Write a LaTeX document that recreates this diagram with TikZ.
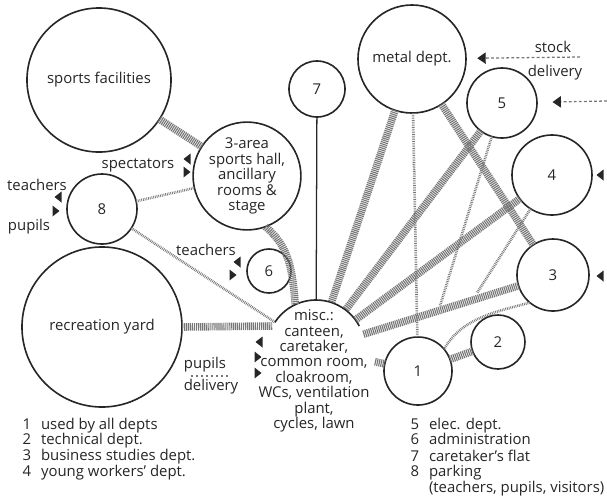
\documentclass[tikz,border=0pt]{standalone}
\usepackage{fontspec}
\setmainfont{Open Sans}
\usetikzlibrary{arrows.meta,shapes.geometric}
\definecolor{ink}{RGB}{38,38,38}
\definecolor{hatch}{RGB}{118,118,118}
\tikzset{
  area/.style={circle,draw=ink,line width=1.15pt,inner sep=0pt,outer sep=0pt,align=center,text=ink},
  lbl/.style={text=ink,inner sep=1pt,align=center},
  strong/.style={draw=hatch,line width=5.4pt,dash pattern=on 0.8pt off 0.6pt},
  weak/.style={draw=hatch,line width=1.9pt,dash pattern=on 0.55pt off 0.7pt},
  supply/.style={-{Triangle[length=6pt,width=8pt,color=ink]},draw=hatch,line width=0.9pt,dash pattern=on 2pt off 1.6pt},
  pointl/.pic={\fill[ink] (-3.5,0) -- (3.5,-5.5) -- (3.5,5.5) -- cycle;},
  pointr/.pic={\fill[ink] (3.5,0) -- (-3.5,-5.5) -- (-3.5,5.5) -- cycle;}
}

\begin{document}
\begin{tikzpicture}[x=0.025cm,y=-0.025cm,font=\fontsize{10.6}{11}\selectfont]
\useasboundingbox (0,0) rectangle (607,502);
% areas
\node[area,minimum size=3.6cm] (sport) at (99,80) {sports facilities};
\node[area,minimum size=2.5cm] (hall) at (247,176) {3-area\\sports hall,\\ancillary\\rooms \&\\stage};
\node[area,minimum size=1.75cm] (park) at (102,209) {8};
\node[area,minimum size=4cm] (yard) at (102,327) {recreation yard};
\node[area,minimum size=1.1cm] (admin) at (269,271) {6};
\node[area,minimum size=1.4cm] (flat) at (317,89) {7};
\node[area,minimum size=2.7cm] (metal) at (412,59) {metal dept.};
\node[area,minimum size=1.75cm] (elec) at (502,103) {5};
\node[area,minimum size=2cm] (young) at (552,175) {4};
\node[area,minimum size=1.8cm] (bus) at (553,275) {3};
\node[area,minimum size=1.35cm] (tech) at (498,342) {2};
\node[area,minimum size=1.7cm] (all) at (418,371) {1};
\node[area,draw=none,minimum size=2.45cm] (misc) at (316,349) {};
\draw[ink,line width=1.15pt] (misc.147) arc[start angle=147,end angle=28,radius=1.225cm];
\node[lbl] (misclist) at (314,371) {misc.:\\canteen,\\caretaker,\\common room,\\cloakroom,\\WCs, ventilation\\plant,\\cycles, lawn};

% free ends
\coordinate (j5) at (440,306);
\coordinate (j4) at (477,293);
\coordinate (stocksrc) at (580,57);
\coordinate (elecsrc) at (607,101);

% strong relations
\draw[strong] (sport) -- (hall);
\draw[strong] (hall.290) to[out=-40,in=95] (misc.115);
\draw[strong] (yard.east) -- (misc.152);
\draw[strong] (metal) -- (misc);
\draw[strong] (elec) -- (misc);
\draw[strong] (young) -- (misc);
\draw[strong] (bus) -- (misc);
\draw[strong] (metal) -- (bus);
\draw[strong] (all) -- (tech);
\draw[strong,shorten <=8pt] (misc) -- (all);

% weak relations
\draw[weak] (park) -- (hall);
\draw[weak] (park) -- (misc);
\draw[weak] (metal) -- (all);
\draw[weak] (elec) -- (j5);
\draw[weak] (young) -- (j4);
\draw[weak] (bus.230) .. controls (495,312) and (462,318) .. (all.40);
\draw[ink,line width=0.9pt] (flat) -- (misc);

% deliveries
\draw[supply,shorten >=8pt] (stocksrc) -- (metal);
\draw[supply,shorten >=11pt] (elecsrc) -- (elec);
\node[lbl] (stocklbl) at (553,47) {stock};
\node[lbl] (dellbl) at (555,73) {delivery};

% access
\node[lbl] (spect) at (138,165) {spectators};
\pic at (187,159) {pointl};
\pic at (187,172) {pointr};
\node[lbl] (teach8) at (37,185) {teachers};
\node[lbl] (pupil8) at (29,227) {pupils};
\pic at (58,197) {pointl};
\pic at (56,211) {pointr};
\node[lbl] (teach6) at (206,250) {teachers};
\pic at (237,262) {pointl};
\pic at (233,275) {pointr};
\node[lbl] (pupillbl) at (205,365) {pupils};
\node[lbl] (delivlbl) at (211,387) {delivery};
\draw[hatch,line width=0.8pt,dash pattern=on 1.4pt off 2.2pt] (191,376) -- (229,376);
\pic at (259,342) {pointl};
\pic at (258,357) {pointr};
\pic at (258,373) {pointr};
\pic at (600,175) {pointl};
\pic at (600,276) {pointl};

% key
\node[lbl,anchor=north west,align=left] (keyl) at (21,416) {\begin{tabular}{@{}r@{\hspace{7pt}}l@{}}
1 & used by all depts\\
2 & technical dept.\\
3 & business studies dept.\\
4 & young workers' dept.
\end{tabular}};
\node[lbl,anchor=north west,align=left] (keyr) at (409,416) {\begin{tabular}{@{}r@{\hspace{7pt}}l@{}}
5 & elec. dept.\\
6 & administration\\
7 & caretaker's flat\\
8 & parking\\
  & (teachers, pupils, visitors)
\end{tabular}};
\end{tikzpicture}
\end{document}
